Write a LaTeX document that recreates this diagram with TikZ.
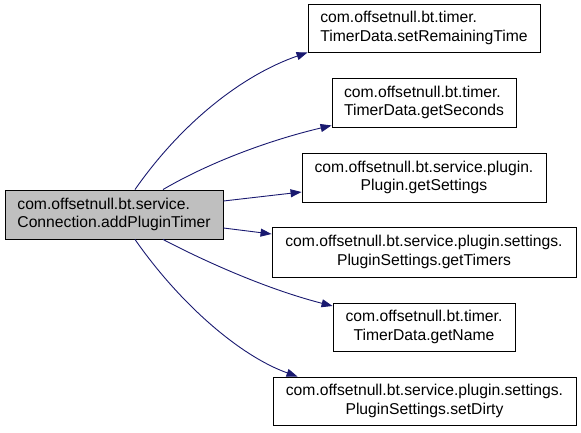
\documentclass[tikz,border=0pt]{standalone}
\usepackage{fontspec}
\setmainfont{Liberation Sans}
\usetikzlibrary{arrows.meta}
\definecolor{edgeblue}{HTML}{191970}
\definecolor{boxgray}{HTML}{BFBFBF}
\begin{document}
\begin{tikzpicture}[x=1pt,y=-1pt,
  fn/.style={draw=black,line width=0.9pt,fill=white,align=center,inner sep=0pt,
    font=\fontsize{15.7}{18.7}\selectfont,minimum height=49pt},
  fnl/.style={fn,align=left},
  call/.style={draw=edgeblue,line width=0.9pt,-{Triangle[length=11pt,width=8pt]}}]
\useasboundingbox (0,0) rectangle (581,432);
\node[fnl,fill=boxgray,minimum width=218pt] (L) at (114,214.5)
  {com.offsetnull.bt.service.\\Connection.addPluginTimer};
\node[fnl,minimum width=232pt,minimum height=48pt] (n1) at (424,28)
  {com.offsetnull.bt.timer.\\TimerData.setRemainingTime};
\node[fnl,minimum width=184pt] (n2) at (424,102.5)
  {com.offsetnull.bt.timer.\\TimerData.getSeconds};
\node[fn,minimum width=244pt] (n3) at (424,177.5)
  {com.offsetnull.bt.service.plugin.\\Plugin.getSettings};
\node[fn,minimum width=304pt,minimum height=50pt] (n4) at (424,252)
  {com.offsetnull.bt.service.plugin.settings.\\PluginSettings.getTimers};
\node[fn,minimum width=182pt,minimum height=48pt] (n5) at (424,327)
  {com.offsetnull.bt.timer.\\TimerData.getName};
\node[fn,minimum width=303pt,minimum height=48pt] (n6) at (424.5,401)
  {com.offsetnull.bt.service.plugin.settings.\\PluginSettings.setDirty};
\draw[call] ([xshift=21pt]L.north) .. controls (180,125) and (240,76) .. (n1.south west);
\draw[call] ([xshift=49pt]L.north) .. controls (210,162) and (270,140) .. ([yshift=2pt]n2.south west);
\draw[call] ([yshift=13.5pt]L.east) -- ([yshift=-14.5pt]n3.west);
\draw[call] ([yshift=-13.5pt]L.east) -- ([yshift=18pt]n4.west);
\draw[call] ([xshift=49pt]L.south) .. controls (210,264) and (270,290) .. ([yshift=21pt]n5.west);
\draw[call] ([xshift=21pt]L.south) .. controls (180,304) and (240,356) .. ([xshift=25pt]n6.north west);
\end{tikzpicture}
\end{document}
